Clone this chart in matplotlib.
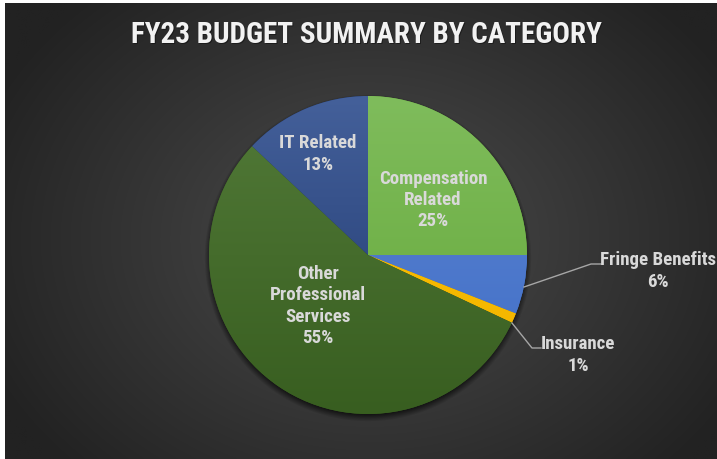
import matplotlib.pyplot as plt
import matplotlib.colors as mcolors
from matplotlib import font_manager
import numpy as np

categories = ['Compensation\nRelated', 'Fringe Benefits', 'Insurance',
              'Other\nProfessional\nServices', 'IT Related']
shares = [25, 6, 1, 55, 13]

# top / bottom colours of each slice's vertical gradient
tops = ['#7FBC5C', '#5D84D2', '#FFC000', '#527A38', '#44609A']
bottoms = ['#64A838', '#3F6EC6', '#F0B400', '#385E20', '#1E376E']

# prefer a narrow face, otherwise plain Liberation Sans at a smaller size
narrow = None
for fam in ['Liberation Sans Narrow', 'Roboto Condensed', 'Arial Narrow']:
    try:
        font_manager.findfont(font_manager.FontProperties(family=fam), fallback_to_default=False)
        narrow = fam
        break
    except ValueError:
        pass
if narrow:
    families = [narrow, 'DejaVu Sans']
    title_size, label_size = 21, 13.6
else:
    families = ['Liberation Sans', 'DejaVu Sans']
    title_size, label_size = 18, 11

W, H = 717, 460
fig = plt.figure(figsize=(W / 100, H / 100), dpi=100)
fig.patch.set_facecolor('white')
ax = fig.add_axes([0, 0, 1, 1])

# dark radial backdrop
x0, y0 = 5, 0
x1, y1 = W, H - 4
gx, gy = np.meshgrid(np.linspace(x0, x1, 400), np.linspace(y0, y1, 260))
r = np.sqrt(((gx - 370) / 420) ** 2 + ((gy - 220) / 330) ** 2)
r = np.clip(r, 0, 1)
c_in = np.array(mcolors.to_rgb('#4C4C4C'))
c_out = np.array(mcolors.to_rgb('#222222'))
bg = c_in[None, None, :] * (1 - r[..., None]) + c_out[None, None, :] * r[..., None]
ax.imshow(bg, extent=[x0, x1, y0, y1], origin='lower', zorder=0, interpolation='bilinear')

cx, cy, rad = 368, H - 256, 159

# soft shadow under the pie
sx, sy = np.meshgrid(np.linspace(cx - 190, cx + 190, 380), np.linspace(cy - 195, cy + 185, 380))
d = np.sqrt((sx - cx) ** 2 + (sy - (cy - 3)) ** 2)
a = np.clip((rad + 5 - d) / 8, 0, 1) * 0.7
shadow = np.zeros((380, 380, 4))
shadow[..., 3] = a
ax.imshow(shadow, extent=[cx - 190, cx + 190, cy - 195, cy + 185], origin='lower',
          zorder=1, interpolation='bilinear')

wedges, _ = ax.pie(shares, center=(cx, cy), radius=rad, startangle=90,
                   counterclock=False, colors=bottoms, frame=True,
                   wedgeprops=dict(linewidth=0, zorder=2))
ax.set_xlim(0, W)
ax.set_ylim(0, H)
ax.set_aspect('auto')
ax.axis('off')

# gradient fill clipped to each wedge
for w, t, b in zip(wedges, tops, bottoms):
    ct = np.array(mcolors.to_rgb(t))
    cb = np.array(mcolors.to_rgb(b))
    s = np.linspace(0, 1, 200)[:, None]
    grad = (cb[None, :] * (1 - s) + ct[None, :] * s)[:, None, :]
    im = ax.imshow(grad, extent=[cx - rad, cx + rad, cy - rad, cy + rad],
                   origin='lower', aspect='auto', zorder=3, interpolation='bilinear')
    im.set_clip_path(w)

lab = dict(color='#D9D9D9', fontsize=label_size, fontweight='bold', ha='center', va='center',
           family=families, linespacing=1.22, zorder=5)

pct = ['%d%%' % v for v in shares]
ax.text(433, H - 200, categories[0] + '\n' + pct[0], **lab)
ax.text(318, H - 154, categories[4] + '\n' + pct[4], **lab)
ax.text(318, H - 306, categories[3] + '\n' + pct[3], **lab)
ax.text(658, H - 271, categories[1] + '\n' + pct[1], **lab)
ax.text(578, H - 355, categories[2] + '\n' + pct[2], **lab)

# leader lines for the two small slices
ax.plot([524, 591, 601], [H - 288, H - 265, H - 265], color='#A6A6A6', lw=1, zorder=4)
ax.plot([512, 532, 541], [H - 324, H - 349, H - 349], color='#A6A6A6', lw=1, zorder=4)

title = 'FY23 BUDGET SUMMARY BY CATEGORY'
tkw = dict(fontsize=title_size, fontweight='bold', ha='center', va='center', family=families)
ax.text(367.5, H - 36.5, title, color='#111111', alpha=0.6, zorder=5, **tkw)
ax.text(366, H - 35, title, color='#F2F2F2', zorder=6, **tkw)

fig.savefig('out.png', dpi=100, facecolor=fig.get_facecolor())
